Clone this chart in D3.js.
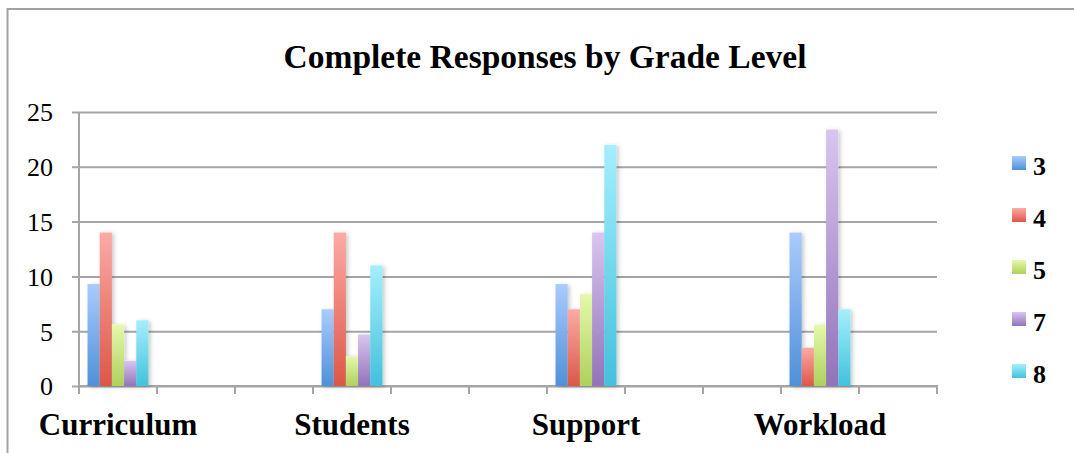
<!DOCTYPE html>
<html>
<head>
<meta charset="utf-8">
<script src="https://cdn.jsdelivr.net/npm/d3@7"></script>
<style>
  html, body { margin: 0; padding: 0; background: #fff; }
  svg { display: block; }
</style>
</head>
<body>
<svg id="chart" width="1074" height="453"></svg>
<script>
// Category slots along the x axis (unnamed slots carry no bars)
const categories = ["Curriculum", "", "", "Students", "", "", "Support", "", "", "Workload", ""];
const grades = ["3", "4", "5", "7", "8"];
// Responses per grade, in order Curriculum, Students, Support, Workload
const grade3 = [9.3, 7.0, 9.3, 14.0];
const grade4 = [14.0, 14.0, 7.0, 3.5];
const grade5 = [5.6, 2.7, 8.4, 5.6];
const grade7 = [2.3, 4.7, 14.0, 23.4];
const grade8 = [6.0, 11.0, 22.0, 7.0];
const yTicks = [0, 5, 10, 15, 20, 25];
const title = "Complete Responses by Grade Level";

const seriesValues = [grade3, grade4, grade5, grade7, grade8];
const gradeColors = [
  ["#aacbfc", "#4f90d9"],
  ["#fcaaa5", "#dc5749"],
  ["#e4f9ab", "#afd05c"],
  ["#d8c5f0", "#9273b9"],
  ["#a4effc", "#42c1dc"]
];

const svg = d3.select("#chart");
const serif = "'Liberation Serif', 'Times New Roman', serif";

const plot = { left: 79, right: 937, top: 112, bottom: 386 };

const x = d3.scaleBand().domain(d3.range(categories.length)).range([plot.left, plot.right]);
const xInner = d3.scaleBand().domain(grades).range([0, x.bandwidth()]).paddingOuter(0.7);
const y = d3.scaleLinear().domain([0, 25]).range([plot.bottom, plot.top]);

const defs = svg.append("defs");
grades.forEach((g, i) => {
  const lg = defs.append("linearGradient").attr("id", "grad" + g)
    .attr("x1", 0).attr("y1", 0).attr("x2", 0).attr("y2", 1);
  lg.append("stop").attr("offset", "0%").attr("stop-color", gradeColors[i][0]);
  lg.append("stop").attr("offset", "100%").attr("stop-color", gradeColors[i][1]);
});
defs.append("filter").attr("id", "shadow")
  .attr("x", "-20%").attr("y", "-5%").attr("width", "160%").attr("height", "115%")
  .append("feDropShadow")
  .attr("dx", 2).attr("dy", 1).attr("stdDeviation", 2)
  .attr("flood-color", "#000").attr("flood-opacity", 0.22);

// Outer chart frame
svg.append("path")
  .attr("d", "M7.5,470 L7.5,9 L1090,9")
  .attr("fill", "none").attr("stroke", "#a2a2a2").attr("stroke-width", 2);

// Title
svg.append("text")
  .attr("x", 545).attr("y", 68)
  .attr("text-anchor", "middle")
  .attr("font-family", serif).attr("font-weight", "bold")
  .attr("font-size", 33.5).attr("fill", "#000")
  .text(title);

// Horizontal gridlines and y axis
const yAxis = d3.axisLeft(y).tickValues(yTicks)
  .tickSize(-(plot.right - plot.left)).tickSizeOuter(0).tickPadding(0)
  .tickFormat(d3.format("d"));
const yg = svg.append("g").attr("transform", `translate(${plot.left},0)`).call(yAxis);
yg.select(".domain").remove();
yg.selectAll(".tick line")
  .attr("x1", -7)
  .attr("stroke", "#a5a5a5").attr("stroke-width", 2);
yg.selectAll(".tick text")
  .attr("x", -26).attr("dy", "0.34em")
  .attr("font-family", serif).attr("font-size", 26).attr("fill", "#000");

// Vertical axis line
svg.append("line")
  .attr("x1", plot.left).attr("x2", plot.left)
  .attr("y1", plot.top).attr("y2", plot.bottom)
  .attr("stroke", "#a5a5a5").attr("stroke-width", 2);

// Category axis with tick marks at slot boundaries
const boundaries = d3.range(categories.length + 1).map(i => plot.left + i * x.step());
svg.append("line")
  .attr("x1", plot.left - 1).attr("x2", plot.right + 1)
  .attr("y1", plot.bottom).attr("y2", plot.bottom)
  .attr("stroke", "#a5a5a5").attr("stroke-width", 2);
svg.append("g").selectAll("line").data(boundaries).join("line")
  .attr("x1", d => d).attr("x2", d => d)
  .attr("y1", plot.bottom).attr("y2", plot.bottom + 8)
  .attr("stroke", "#a5a5a5").attr("stroke-width", 2);

// Bars
const named = categories.map((c, i) => ({ name: c, slot: i })).filter(d => d.name !== "");
const barData = [];
named.forEach((cat, ci) => {
  grades.forEach((g, gi) => {
    barData.push({ slot: cat.slot, grade: g, value: seriesValues[gi][ci] });
  });
});
svg.append("g").attr("filter", "url(#shadow)")
  .selectAll("rect").data(barData).join("rect")
  .attr("x", d => x(d.slot) + xInner(d.grade))
  .attr("width", xInner.bandwidth())
  .attr("y", d => y(d.value))
  .attr("height", d => y(0) - y(d.value))
  .attr("fill", d => `url(#grad${d.grade})`);

// Category labels
svg.append("g").selectAll("text").data(named).join("text")
  .attr("x", d => x(d.slot) + x.bandwidth() / 2)
  .attr("y", 435)
  .attr("text-anchor", "middle")
  .attr("font-family", serif).attr("font-weight", "bold")
  .attr("font-size", 31).attr("fill", "#000")
  .text(d => d.name);

// Legend
const legend = svg.append("g").selectAll("g").data(grades).join("g")
  .attr("transform", (d, i) => `translate(1012,${156 + i * 52})`);
legend.append("rect")
  .attr("width", 14).attr("height", 14)
  .attr("fill", d => `url(#grad${d})`);
legend.append("text")
  .attr("x", 21).attr("y", 19)
  .attr("font-family", serif).attr("font-weight", "bold")
  .attr("font-size", 26).attr("fill", "#000")
  .text(d => d);
</script>
</body>
</html>
